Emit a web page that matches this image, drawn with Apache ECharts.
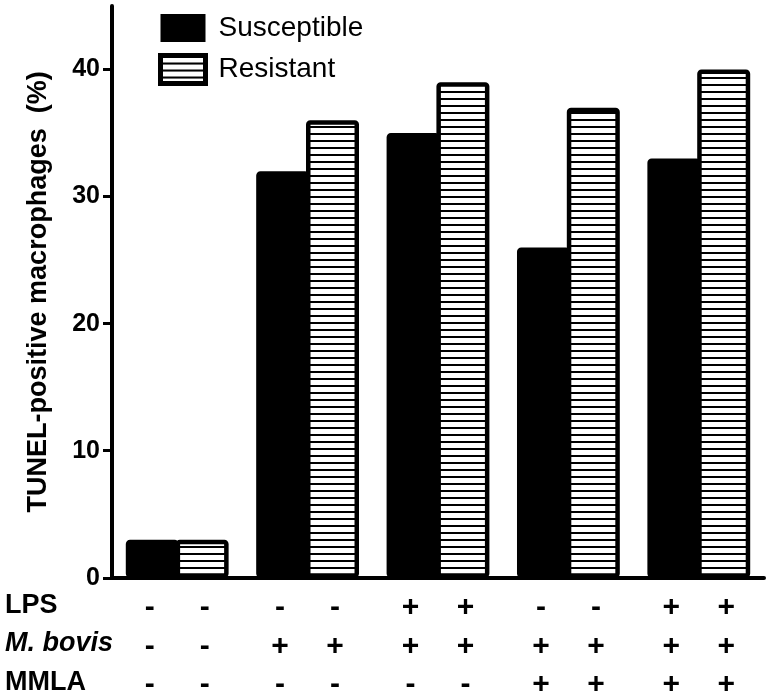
<!DOCTYPE html>
<html>
<head>
<meta charset="utf-8">
<script src="https://cdn.jsdelivr.net/npm/echarts@6/dist/echarts.min.js"></script>
<style>
html,body{margin:0;padding:0;background:#fff;}
#chart{width:773px;height:700px;}
</style>
</head>
<body>
<div id="chart"></div>
<script>
// ---- data ----
const groups = ['G1', 'G2', 'G3', 'G4', 'G5'];
const seriesNames = ['Susceptible', 'Resistant'];
const susceptible = [3, 32, 35, 26, 33];
const resistant = [3, 36, 39, 37, 40];
const yTicks = [0, 10, 20, 30, 40];
const rowLabels = ['LPS', 'M. bovis', 'MMLA'];
const lps    = ['-', '-', '+', '-', '+'];
const mbovis = ['-', '+', '+', '+', '+'];
const mmla   = ['-', '-', '-', '+', '+'];
const yAxisTitle = 'TUNEL-positive macrophages  (%)';

// ---- stripe pattern ----
const pc = document.createElement('canvas');
pc.width = 8; pc.height = 7;
const ctx = pc.getContext('2d');
ctx.fillStyle = '#ffffff'; ctx.fillRect(0, 0, 8, 7);
ctx.fillStyle = '#000000'; ctx.fillRect(0, 0, 8, 2);
const stripe = { image: pc, repeat: 'repeat' };

const FONT = 'Liberation Sans, Arial, Helvetica, sans-serif';
const chart = echarts.init(document.getElementById('chart'), null, { renderer: 'canvas' });

const rowSets = [lps, mbovis, mmla];
const cellStyle = { width: 55, align: 'center', fontSize: 30, fontWeight: 'bold', color: '#000', lineHeight: 38.5, fontFamily: FONT };

chart.setOption({
  animation: false,
  backgroundColor: '#fff',
  grid: { left: 112, right: 9, top: 6, bottom: 122, containLabel: false },
  legend: {
    orient: 'vertical', left: 158, top: 14, padding: 0,
    icon: 'rect',
    itemWidth: 45, itemHeight: 28, itemGap: 11,
    textStyle: { fontSize: 28, color: '#000', fontFamily: FONT, padding: [0, 0, 0, 8] },
    data: [
      { name: seriesNames[0], itemStyle: { color: '#000', borderColor: '#000', borderWidth: 0 } },
      { name: seriesNames[1], itemStyle: { color: stripe, borderColor: '#000', borderWidth: 5 } }
    ]
  },
  xAxis: {
    type: 'category', data: groups,
    axisLine: { lineStyle: { color: '#000', width: 4 } },
    axisTick: { show: false },
    axisLabel: {
      margin: 11, interval: 0,
      formatter: function (v, i) {
        return rowSets.map(r => '{c|' + r[i] + '}{c|' + r[i] + '}').join('\n');
      },
      rich: { c: cellStyle }
    }
  },
  yAxis: {
    type: 'value', min: 0, max: 45, interval: 10,
    name: yAxisTitle, nameLocation: 'middle', nameGap: 60, nameRotate: 90,
    nameTextStyle: { fontSize: 27, fontWeight: 'bold', color: '#000', fontFamily: FONT },
    axisLine: { show: true, lineStyle: { color: '#000', width: 4 } },
    axisTick: { show: true, length: 9, lineStyle: { color: '#000', width: 3 }, customValues: yTicks },
    axisLabel: { fontSize: 25, fontWeight: 'bold', color: '#000', fontFamily: FONT, margin: 12, customValues: yTicks },
    splitLine: { show: false }
  },
  graphic: rowLabels.map((t, i) => ({
    type: 'text', left: 5, top: 607 + i * 38.5 - 15,
    style: { text: t, fontSize: 27, fontWeight: 'bold', fontStyle: i === 1 ? 'italic' : 'normal', fill: '#000', fontFamily: FONT }
  })),
  series: [
    {
      name: seriesNames[0], type: 'bar', data: susceptible, barWidth: 53, barGap: '-6%',
      itemStyle: { color: '#000', borderColor: '#000', borderWidth: 4.5, borderRadius: 2 }
    },
    {
      name: seriesNames[1], type: 'bar', data: resistant, barWidth: 53,
      itemStyle: { color: stripe, borderColor: '#000', borderWidth: 4.5, borderRadius: 2 }
    }
  ]
});
</script>
</body>
</html>
